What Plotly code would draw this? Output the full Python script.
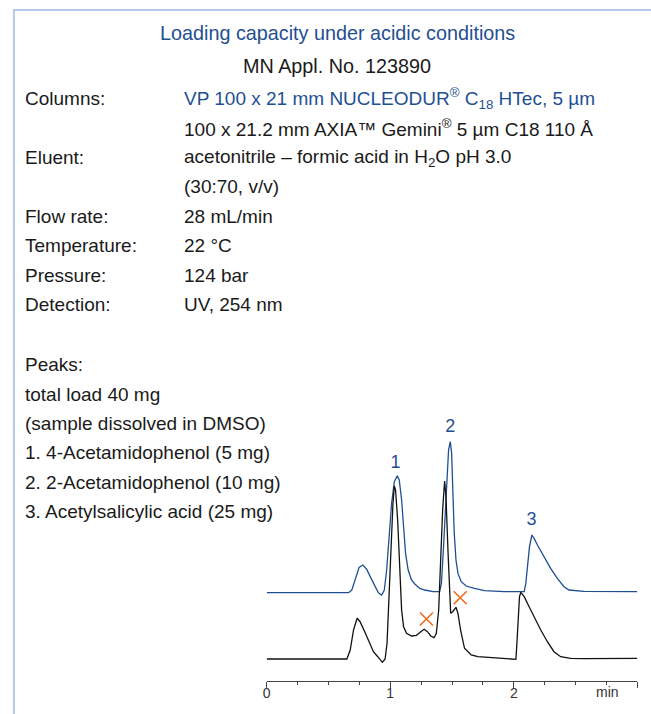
import plotly.graph_objects as go

# ---------------- data ----------------
# Lower (black) chromatogram: time [min], signal [a.u.]
black_time = [0.0, 0.649, 0.676, 0.703, 0.732, 0.756, 0.797, 0.837, 0.864, 0.899,
              0.936, 0.958, 0.974, 0.990, 1.006, 1.022, 1.033, 1.043, 1.060, 1.076,
              1.092, 1.108, 1.132, 1.172, 1.212, 1.247, 1.274, 1.301, 1.328, 1.355,
              1.373, 1.392, 1.408, 1.424, 1.440, 1.451, 1.467, 1.481, 1.489, 1.505,
              1.521, 1.532, 1.548, 1.569, 1.601, 1.655, 1.709, 1.869, 2.017, 2.025,
              2.036, 2.046, 2.057, 2.084, 2.124, 2.164, 2.218, 2.272, 2.325, 2.379,
              2.459, 2.567, 3.0]
black_signal = [0.0, 0.0, 9.0, 29.0, 40.7, 37.3, 26.3, 14.0, 7.3, 2.3,
                -3.3, -0.3, 15.7, 62.3, 115.7, 155.7, 173.0, 169.0, 139.0, 89.0,
                49.0, 32.3, 25.7, 23.0, 23.7, 27.3, 29.7, 27.3, 23.0, 21.3,
                25.7, 49.0, 99.0, 149.0, 178.0, 162.3, 109.0, 62.3, 45.7, 47.3,
                50.7, 51.7, 45.7, 29.0, 10.7, 4.0, 2.3, 1.0, -0.3, 15.7,
                49.0, 62.3, 66.7, 62.3, 52.3, 42.3, 29.0, 17.3, 7.3, 2.3,
                0.7, 0.3, 0.7]

# Upper (blue) chromatogram: time [min], signal [a.u.]
blue_time = [0.0, 0.663, 0.689, 0.722, 0.748, 0.778, 0.810, 0.845, 0.877, 0.904,
             0.931, 0.952, 0.971, 0.990, 1.011, 1.033, 1.057, 1.073, 1.092, 1.108,
             1.124, 1.145, 1.172, 1.199, 1.239, 1.279, 1.347, 1.400, 1.414, 1.430,
             1.446, 1.462, 1.472, 1.486, 1.497, 1.507, 1.518, 1.532, 1.548, 1.574,
             1.615, 1.682, 1.762, 1.923, 2.084, 2.097, 2.111, 2.127, 2.146, 2.164,
             2.191, 2.245, 2.298, 2.352, 2.406, 2.446, 2.513, 2.567, 3.0]
blue_signal = [0.0, 0.0, 2.7, 14.3, 25.3, 27.7, 23.3, 14.3, 6.0, 0.0,
               -2.3, 2.7, 22.7, 56.0, 89.3, 111.0, 117.0, 112.7, 92.7, 66.0,
               39.3, 22.7, 12.7, 8.7, 4.3, 2.7, 1.0, 1.0, 9.3, 42.7,
               82.7, 122.7, 142.7, 151.0, 139.3, 99.3, 59.3, 32.7, 19.3, 11.0,
               6.7, 4.3, 2.0, 1.0, 1.0, 9.3, 26.0, 46.0, 57.7, 54.3,
               47.7, 36.0, 24.3, 14.3, 6.0, 2.7, 1.7, 1.3, 1.0]
blue_offset = 66.3

# peak labels (time, signal) and impurity marks
peak_names = ["1", "2", "3"]
peak_label_time = [1.043, 1.486, 2.143]
peak_label_signal = [196, 232, 139]
impurity_time = [1.293, 1.566]
impurity_signal = [40, 61.3]

# axis ticks
tick_vals = [0, 1, 2, 3]
tick_text = ["0", "1", "2", ""]
unit_label = "min"

# header / condition text
title_text = "Loading capacity under acidic conditions"
appl_text = "MN Appl. No. 123890"
cond_labels = ["Columns:", "", "Eluent:", "", "Flow rate:", "Temperature:", "Pressure:", "Detection:"]
cond_values = ["VP 100 x 21 mm NUCLEODUR<sup>®</sup> C<sub>18</sub> HTec, 5 µm",
               "100 x 21.2 mm AXIA™ Gemini<sup>®</sup> 5 µm C18 110 Å",
               "acetonitrile – formic acid in H<sub>2</sub>O pH 3.0",
               "(30:70, v/v)",
               "28 mL/min",
               "22 °C",
               "124 bar",
               "UV, 254 nm"]
peak_lines = ["Peaks:", "total load 40 mg", "(sample dissolved in DMSO)",
              "1. 4-Acetamidophenol (5 mg)", "2. 2-Acetamidophenol (10 mg)",
              "3. Acetylsalicylic acid (25 mg)"]

# ---------------- styling / layout ----------------
W, H = 651, 714
BLUE = "#1f4f93"
INK = "#1a1a1a"
FONT = "Liberation Sans"
FS = 19

def px(x):
    return x / W

def py(y):
    return 1 - y / H

fig = go.Figure()

fig.add_trace(go.Scatter(x=blue_time, y=[s + blue_offset for s in blue_signal],
                         mode="lines", line=dict(color=BLUE, width=1.3),
                         hoverinfo="skip", showlegend=False))
fig.add_trace(go.Scatter(x=black_time, y=black_signal,
                         mode="lines", line=dict(color="#111111", width=1.3),
                         hoverinfo="skip", showlegend=False))
fig.add_trace(go.Scatter(x=impurity_time, y=impurity_signal, mode="markers",
                         marker=dict(symbol="x-thin", size=13,
                                     line=dict(color="#ee6b1f", width=1.6)),
                         hoverinfo="skip", showlegend=False))
fig.add_trace(go.Scatter(x=peak_label_time, y=peak_label_signal, mode="text",
                         text=peak_names, textposition="middle center",
                         textfont=dict(family=FONT, size=18, color=BLUE),
                         hoverinfo="skip", showlegend=False))

annotations = []
annotations.append(dict(text=title_text, x=px(336), y=py(33), xref="paper", yref="paper",
                        xanchor="center", yanchor="middle", showarrow=False,
                        font=dict(family=FONT, size=19.8, color=BLUE)))
annotations.append(dict(text=appl_text, x=px(335.5), y=py(66), xref="paper", yref="paper",
                        xanchor="center", yanchor="middle", showarrow=False,
                        font=dict(family=FONT, size=19.8, color=INK)))
cond_y = [98.5, 128, 157.5, 187, 216.5, 245.5, 275, 304]
for i, (lab, val) in enumerate(zip(cond_labels, cond_values)):
    if lab:
        annotations.append(dict(text=lab, x=px(19), y=py(cond_y[i]), xref="paper", yref="paper",
                                xanchor="left", yanchor="middle", showarrow=False,
                                font=dict(family=FONT, size=FS, color=INK)))
    annotations.append(dict(text=val, x=px(179), y=py(cond_y[i]), xref="paper", yref="paper",
                            xanchor="left", yanchor="middle", showarrow=False,
                            font=dict(family=FONT, size=FS, color=BLUE if i == 0 else INK)))
peak_y = [364.5, 394, 423, 452.5, 482, 511]
for yy, line in zip(peak_y, peak_lines):
    annotations.append(dict(text=line, x=px(19), y=py(yy), xref="paper", yref="paper",
                            xanchor="left", yanchor="middle", showarrow=False,
                            font=dict(family=FONT, size=FS, color=INK)))
annotations.append(dict(text=unit_label, x=2.755, y=py(692), xref="x", yref="paper",
                        xanchor="center", yanchor="middle", showarrow=False,
                        font=dict(family=FONT, size=14, color="#333333")))

shapes = [
    dict(type="line", xref="paper", yref="paper", x0=px(9), x1=1.0, y0=py(10), y1=py(10),
         line=dict(color="#b5c9e7", width=2)),
    dict(type="line", xref="paper", yref="paper", x0=px(10), x1=px(10), y0=py(9), y1=0.0,
         line=dict(color="#b5c9e7", width=2)),
]

fig.update_layout(
    width=W, height=H, autosize=False,
    margin=dict(l=0, r=0, t=0, b=0),
    paper_bgcolor="white", plot_bgcolor="white",
    annotations=annotations, shapes=shapes,
    xaxis=dict(domain=[264.3 / W, 637.3 / W], range=[0, 3],
               tickmode="array", tickvals=tick_vals, ticktext=tick_text,
               ticks="outside", ticklen=6, tickwidth=1, tickcolor="#444444",
               ticklabelstandoff=-7,
               showline=True, linecolor="#444444", linewidth=1,
               showgrid=False, zeroline=False,
               tickfont=dict(family=FONT, size=14, color="#333333"),
               minor=dict(tickmode="linear", tick0=0, dtick=0.25, ticks="outside",
                          ticklen=3, tickwidth=1, tickcolor="#444444", showgrid=False)),
    yaxis=dict(domain=[(H - 680.7) / H, 1], range=[-21.7, 659],
               visible=False, showgrid=False, zeroline=False),
)

fig.write_html("out.html",
               config={"displayModeBar": False, "staticPlot": True},
               post_script="document.body.style.margin='0px';document.body.style.padding='0px';"
                           "document.documentElement.style.overflow='hidden';")
